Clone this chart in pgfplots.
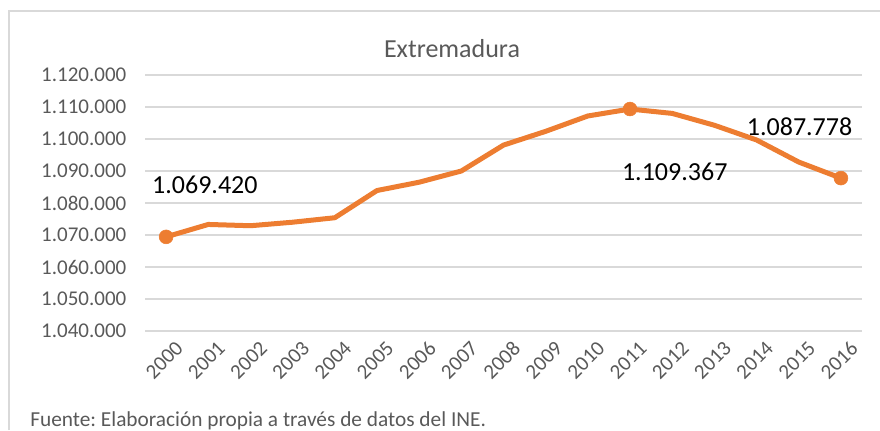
\documentclass[border=0pt]{standalone}
\usepackage{pgfplots}
\pgfplotsset{compat=1.18}
\usepackage{fontspec}
\setmainfont{Carlito}
\frenchspacing
\definecolor{lineor}{HTML}{ED7D31}
\definecolor{txtgray}{HTML}{595959}
\definecolor{gridgray}{HTML}{D9D9D9}
\begin{document}
\begin{tikzpicture}[x=0.75pt,y=0.75pt]
\path[use as bounding box] (0,0) rectangle (880,430);
\draw[gridgray, line width=1.1pt] (9,0) -- (9,419) -- (880,419);
\begin{axis}[
  at={(108.75pt,74.25pt)}, anchor=south west,
  scale only axis, width=537.75pt, height=192pt,
  xmin=-0.5, xmax=16.5,
  ymin=1040000, ymax=1120000,
  ytick={1040000,1050000,1060000,1070000,1080000,1090000,1100000,1110000,1120000},
  scaled y ticks=false,
  xtick={0,...,16},
  xticklabels={2000,2001,2002,2003,2004,2005,2006,2007,2008,2009,2010,2011,2012,2013,2014,2015,2016},
  axis line style={draw=none},
  major tick length=0pt,
  ymajorgrids, grid style={gridgray, line width=0.9pt},
  /pgf/number format/.cd, fixed, precision=0, 1000 sep={.}, assume math mode=true,
  /pgfplots/.cd,
  tick label style={font=\fontsize{15.75}{18}\selectfont, text=txtgray},
  yticklabel style={xshift=-10.5pt},
  xticklabel style={rotate=45, anchor=east, yshift=-14.5pt, xshift=3pt},
  clip=false,
]
\addplot[lineor, line width=3.75pt, line join=round, line cap=round] coordinates {
(0,1069420) (1,1073300) (2,1072900) (3,1074000) (4,1075400) (5,1083900)
(6,1086500) (7,1090000) (8,1098100) (9,1102400) (10,1107200) (11,1109367)
(12,1108000) (13,1104300) (14,1099700) (15,1092800) (16,1087778)
};
\addplot[only marks, mark=*, mark size=5.2pt, lineor, mark options={fill=lineor, draw=lineor}] coordinates {
(0,1069420) (11,1109367) (16,1087778)
};
\node[font=\fontsize{19.5}{22}\selectfont, text=black] at (axis cs:0.92,1085600) {1.069.420};
\node[font=\fontsize{19.5}{22}\selectfont, text=black] at (axis cs:12.06,1089840) {1.109.367};
\node[font=\fontsize{19.5}{22}\selectfont, text=black] at (axis cs:15.02,1103900) {1.087.778};
\end{axis}
\node[font=\fontsize{19.5}{22}\selectfont, text=txtgray] at (452,381) {Extremadura};
\node[anchor=base west, inner sep=0pt, font=\fontsize{16}{18}\selectfont, text=txtgray] at (30,4) {Fuente: Elaboración propia a través de datos del INE.};
\end{tikzpicture}
\end{document}
